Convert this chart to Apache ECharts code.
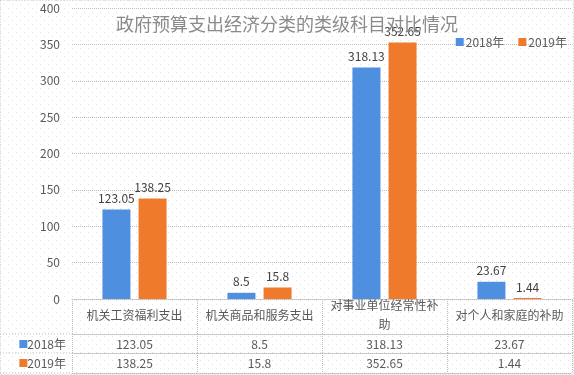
<!DOCTYPE html>
<html><head><meta charset="utf-8">
<script src="https://cdn.jsdelivr.net/npm/echarts@6/dist/echarts.min.js"></script>
<style>html,body{margin:0;padding:0;background:#fff}#c{width:574px;height:375px}</style>
</head><body><div id="c"></div>
<script>
const title = '政府预算支出经济分类的类级科目对比情况';
const categories = ['机关工资福利支出', '机关商品和服务支出', '对事业单位经常性补助', '对个人和家庭的补助'];
const seriesNames = ['2018年', '2019年'];
const values2018 = [123.05, 8.5, 318.13, 23.67];
const values2019 = [138.25, 15.8, 352.65, 1.44];
const yTicks = [0, 50, 100, 150, 200, 250, 300, 350, 400];

const colors = ['#4f8fe0', '#ef7a2c'];
const FONT = '"Noto Sans CJK SC", "Noto Sans", sans-serif';
const gridLine = '#bdbdbd';

// dotted background texture
const pc = document.createElement('canvas');
pc.width = 8; pc.height = 8;
const pctx = pc.getContext('2d');
pctx.fillStyle = '#ffffff'; pctx.fillRect(0, 0, 8, 8);
pctx.fillStyle = '#e2e2e2';
pctx.fillRect(0, 0, 1, 1); pctx.fillRect(4, 4, 1, 1);

const chart = echarts.init(document.getElementById('c'), null, {renderer: 'canvas'});

function rowAxis(data, offset, name, showLabel) {
  return {
    type: 'category', data: data, position: 'bottom', offset: offset, gridIndex: 0,
    axisLine: {show: true, lineStyle: {color: gridLine, type: 'dotted', width: 1}},
    axisTick: {show: showLabel, length: 19, alignWithLabel: false, lineStyle: {color: gridLine, type: 'dotted'}},
    axisLabel: {show: showLabel, margin: 10, verticalAlign: 'middle', color: '#595959', fontSize: 12, fontFamily: FONT, interval: 0},
    name: name, nameLocation: 'start', nameGap: 6,
    nameTextStyle: name ? {
      align: 'right', verticalAlign: 'top', lineHeight: 20, color: '#595959', fontSize: 12, fontFamily: FONT,
      rich: {}
    } : undefined,
    splitLine: {show: false}
  };
}

const option = {
  backgroundColor: {image: pc, repeat: 'repeat'},
  animation: false,
  textStyle: {fontFamily: FONT},
  title: {
    text: title, left: 'center', top: 10,
    textStyle: {fontSize: 18, fontWeight: 'normal', color: '#8a8a8a', fontFamily: FONT}
  },
  legend: {
    data: seriesNames, right: 2, top: 31, itemWidth: 8, itemHeight: 8, itemGap: 14,
    icon: 'rect',
    textStyle: {fontSize: 12, color: '#595959', fontFamily: FONT, padding: [0, 0, 0, -3]}
  },
  grid: {left: 72, right: 2, top: 8, bottom: 76, containLabel: false},
  yAxis: {
    type: 'value', min: yTicks[0], max: yTicks[yTicks.length - 1], interval: yTicks[1] - yTicks[0],
    axisLine: {show: false}, axisTick: {show: false},
    axisLabel: {margin: 12, color: '#595959', fontSize: 12, fontFamily: FONT},
    splitLine: {lineStyle: {color: gridLine, type: 'dotted'}}
  },
  xAxis: [
    {
      type: 'category', data: categories, position: 'bottom',
      axisLine: {show: true, lineStyle: {color: gridLine, type: 'dotted'}},
      axisTick: {show: true, length: 35, lineStyle: {color: gridLine, type: 'dotted'}},
      axisLabel: {
        interval: 0, margin: 16, verticalAlign: 'middle', color: '#595959', fontSize: 12, fontFamily: FONT,
        width: 112, overflow: 'break', lineHeight: 19
      }
    },
    rowAxis(values2018.map(String), 35, '{s0|}' + seriesNames[0], true),
    rowAxis(values2019.map(String), 54, '{s1|}' + seriesNames[1], true),
    rowAxis(categories, 74, '', false)
  ],
  graphic: [
    {type: 'line', shape: {x1: 0, y1: 334, x2: 72, y2: 334}, style: {stroke: gridLine, lineDash: [1, 2]}},
    {type: 'line', shape: {x1: 0, y1: 353, x2: 72, y2: 353}, style: {stroke: gridLine, lineDash: [1, 2]}},
    {type: 'line', shape: {x1: 0, y1: 373, x2: 72, y2: 373}, style: {stroke: gridLine, lineDash: [1, 2]}},
    {type: 'rect', shape: {x: 0.5, y: 0.5, width: 573, height: 374}, style: {fill: null, stroke: '#c8c8c8', lineDash: [1, 2]}}
  ],
  series: [
    {
      name: seriesNames[0], type: 'bar', data: values2018, barWidth: 28, barGap: '29%',
      itemStyle: {color: colors[0]},
      label: {show: true, position: 'top', distance: 5, color: '#404040', fontSize: 12, fontFamily: FONT}
    },
    {
      name: seriesNames[1], type: 'bar', data: values2019, barWidth: 28,
      itemStyle: {color: colors[1]},
      label: {show: true, position: 'top', distance: 5, color: '#404040', fontSize: 12, fontFamily: FONT}
    }
  ]
};
option.xAxis[1].nameTextStyle.rich = {s0: {width: 8, height: 8, backgroundColor: colors[0]}};
option.xAxis[2].nameTextStyle.rich = {s1: {width: 8, height: 8, backgroundColor: colors[1]}};
chart.setOption(option);
</script></body></html>
